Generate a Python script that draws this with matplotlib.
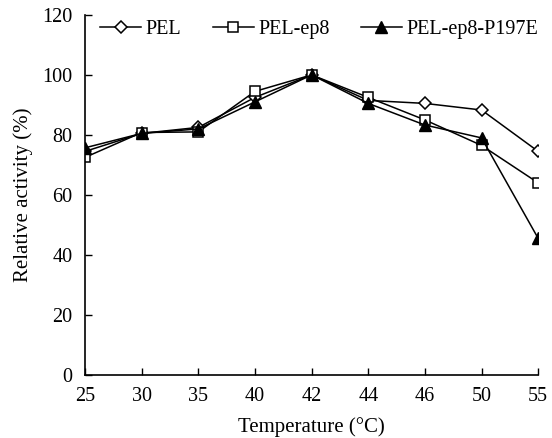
import matplotlib.pyplot as plt

plt.rcParams["font.family"] = ["Liberation Serif", "DejaVu Serif"]

temps = ["25", "30", "35", "40", "42", "44", "46", "50", "55"]
pel = [74.5, 80.5, 82.5, 92.5, 100, 91.5, 90.5, 88.3, 74.5]
pel_ep8 = [72.5, 80.8, 81.0, 94.5, 100, 92.5, 85.0, 76.5, 64.0]
pel_ep8_p197e = [75.7, 80.5, 82.0, 91.0, 100, 90.5, 83.3, 79.0, 45.5]

fig = plt.figure(figsize=(5.52, 4.38), dpi=100)
ax = fig.add_axes([0.154, 0.144, 0.821, 0.822])

x = range(len(temps))
ax.plot(x, pel, color="black", lw=1.1, marker="D", ms=6, mfc="white",
        mec="black", mew=1.1, label="PEL")
ax.plot(x, pel_ep8, color="black", lw=1.1, marker="s", ms=7, mfc="white",
        mec="black", mew=1.1, label="PEL-ep8")
ax.plot(x, pel_ep8_p197e, color="black", lw=1.1, marker="^", ms=8,
        mfc="black", mec="black", label="PEL-ep8-P197E")

ax.set_xlim(0, len(temps) - 1)
ax.set_ylim(0, 120)
ax.set_xticks(list(x))
ax.set_xticklabels(temps)
ax.set_yticks(range(0, 121, 20))
ax.tick_params(direction="in", length=5, width=1, labelsize=14.5, pad=9)

for side in ("top", "right"):
    ax.spines[side].set_visible(False)
for side in ("left", "bottom"):
    ax.spines[side].set_linewidth(1.2)

ax.set_xlabel("Temperature (°C)", fontsize=15, labelpad=8)
ax.set_ylabel("Relative activity (%)", fontsize=15, labelpad=7)

ax.legend(loc="upper left", bbox_to_anchor=(0.033, 0.985), ncol=3, frameon=False,
          fontsize=14.5, handlelength=2.05, handletextpad=0.22, columnspacing=1.55,
          borderaxespad=0, borderpad=0)

fig.savefig("out.png", dpi=100)
